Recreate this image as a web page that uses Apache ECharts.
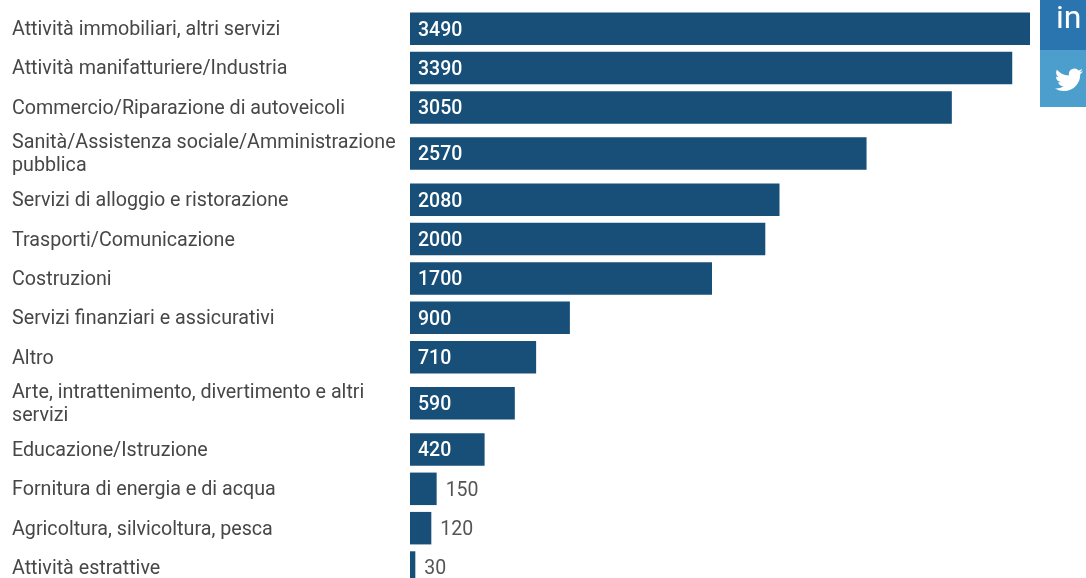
<!DOCTYPE html>
<html>
<head>
<meta charset="utf-8">
<style>html,body{margin:0;padding:0;background:#fff;height:578px;overflow:hidden}#chart{width:1086px;height:620px}</style>
<script src="https://cdn.jsdelivr.net/npm/echarts@6/dist/echarts.min.js"></script>
</head>
<body>
<div id="chart"></div>
<script>
const categories = [
  "Attività immobiliari, altri servizi",
  "Attività manifatturiere/Industria",
  "Commercio/Riparazione di autoveicoli",
  "Sanità/Assistenza sociale/Amministrazione\npubblica",
  "Servizi di alloggio e ristorazione",
  "Trasporti/Comunicazione",
  "Costruzioni",
  "Servizi finanziari e assicurativi",
  "Altro",
  "Arte, intrattenimento, divertimento e altri\nservizi",
  "Educazione/Istruzione",
  "Fornitura di energia e di acqua",
  "Agricoltura, silvicoltura, pesca",
  "Attività estrattive"
];
const values = [3490, 3390, 3050, 2570, 2080, 2000, 1700, 900, 710, 590, 420, 150, 120, 30];

// Row layout: rows whose label runs onto two lines are taller, so each row gets its own grid.
// The chart area is deeper than the page, which cuts the last row off at the bottom edge.
const ROW = 39.35, ROW_TALL = 53, TOP = 9, LEFT = 410, PLOT_W = 620, BAR_H = 32.5;
const FONT = "Roboto, sans-serif";
const NAVY = "#174f78";
const INSIDE_MIN = 400; // shorter bars carry their value outside

const grid = [], xAxis = [], yAxis = [], series = [];
let y = TOP;
categories.forEach((name, i) => {
  const h = name.includes("\n") ? ROW_TALL : ROW;
  grid.push({ left: LEFT, width: PLOT_W, top: y, height: h });
  xAxis.push({ gridIndex: i, type: "value", min: 0, max: values[0], show: false });
  yAxis.push({
    gridIndex: i, type: "category", data: [name],
    axisLine: { show: false }, axisTick: { show: false }, splitLine: { show: false },
    axisLabel: {
      align: "left", margin: 398,
      formatter: (v) => v.split("\n").map((line) => `{t|${line}}`).join("\n"),
      rich: {
        // top padding nudges the text down to sit on the bar's optical centre
        t: { fontFamily: FONT, fontSize: 19.7, lineHeight: 23, padding: [3, 0, 0, 0], color: "#474747" }
      }
    }
  });
  const inside = values[i] >= INSIDE_MIN;
  series.push({
    type: "bar", xAxisIndex: i, yAxisIndex: i, data: [values[i]],
    barWidth: BAR_H, silent: true, animation: false,
    itemStyle: { color: NAVY },
    label: {
      show: true,
      position: inside ? "insideLeft" : "right",
      distance: inside ? 8 : 9,
      offset: [0, 2],
      fontFamily: FONT, fontSize: 19.5,
      fontWeight: inside ? 500 : 400,
      color: inside ? "#ffffff" : "#555555"
    }
  });
  y += h;
});

// Share buttons pinned to the right edge
echarts.graphic.registerShape("birdIcon", echarts.graphic.extendPath(
  "M23.953 4.57 a10 10 0 0 1 -2.825 .775 a4.958 4.958 0 0 0 2.163 -2.723 c-.951 .555 -2.005 .959 -3.127 1.184 a4.92 4.92 0 0 0 -8.384 4.482 C7.69 8.095 4.067 6.13 1.64 3.162 a4.822 4.822 0 0 0 -.666 2.475 c0 1.71 .87 3.213 2.188 4.096 a4.904 4.904 0 0 1 -2.228 -.616 v.06 a4.923 4.923 0 0 0 3.946 4.827 a4.996 4.996 0 0 1 -2.212 .085 a4.936 4.936 0 0 0 4.604 3.417 a9.867 9.867 0 0 1 -6.102 2.105 c-.39 0 -.779 -.023 -1.17 -.067 a13.995 13.995 0 0 0 7.557 2.209 c9.053 0 13.998 -7.496 13.998 -13.985 c0 -.21 0 -.42 -.015 -.63 A9.935 9.935 0 0 0 24 4.59 z",
  {}
));
const graphic = [
  { type: "rect", shape: { x: 1040, y: -5, width: 46, height: 55 }, style: { fill: "#2a75b0" } },
  { type: "rect", shape: { x: 1040, y: 50, width: 46, height: 57 }, style: { fill: "#4c9fcd" } },
  { type: "text", x: 1056, y: 4, style: { text: "in", fill: "#fff", fontFamily: FONT, fontSize: 32, fontWeight: 400 } },
  { type: "birdIcon", x: 1055, y: 66, scaleX: 1.17, scaleY: 1.15, style: { fill: "#fff" } }
];

const chart = echarts.init(document.getElementById("chart"), null, { renderer: "canvas" });
chart.setOption({ animation: false, backgroundColor: "#fff", grid, xAxis, yAxis, series, graphic });
</script>
</body>
</html>
